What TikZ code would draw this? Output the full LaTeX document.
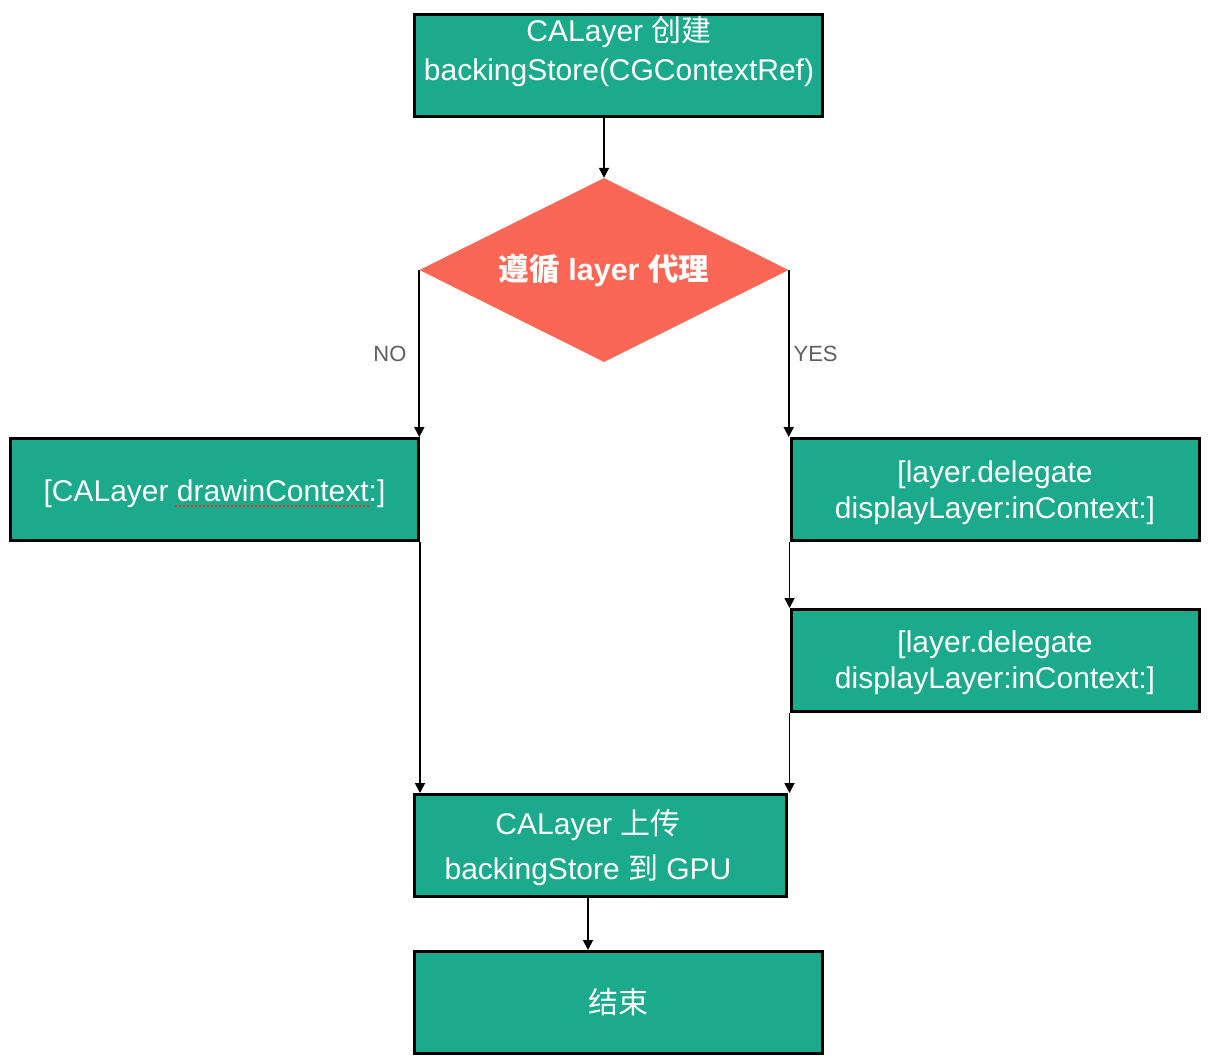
\documentclass[tikz,border=0pt]{standalone}
\usepackage{fontspec}
\setmainfont{Liberation Sans}
\newfontfamily\cjk{Noto Sans CJK SC}
\newcommand{\zh}[1]{{\cjk #1}}
\usepackage{tikz}
\usetikzlibrary{shapes.geometric,arrows.meta,calc}
\usepackage{xcolor}
\definecolor{boxgreen}{HTML}{1BAA8B}
\definecolor{decred}{HTML}{FB6655}
\definecolor{labgray}{HTML}{5E5E5E}
\definecolor{spellred}{HTML}{F0302A}

\begin{document}
\begin{tikzpicture}[x=1pt,y=1pt,
  box/.style={draw=black,line width=3pt,fill=boxgreen,minimum width=408pt,minimum height=102pt,inner sep=0pt,text=white,align=center,font=\fontsize{30}{37}\selectfont},
  txt/.style={text=white,align=center,inner sep=0pt,font=\fontsize{30}{36}\selectfont},
  decision/.style={diamond,aspect=2,fill=decred,minimum width=369pt,minimum height=184pt,inner sep=0pt,text=white,font=\bfseries\fontsize{30.5}{37}\selectfont},
  arr/.style={line width=1.8pt,-{Triangle[length=10pt,width=10pt]}},
  yesno/.style={text=labgray,inner sep=0pt,font=\fontsize{22}{26}\selectfont},
  spell/.style={spellred,line width=2pt,dash pattern=on 2pt off 2pt}]
\useasboundingbox (0,0) rectangle (1222,-1062);
% Caixas
\node[box] (create) at (618.5,-65.5) {};
\node[txt] (createtext) at (619,-52) {CALayer \zh{创建}\\[3pt]backingStore(CGContextRef)};
\node[decision] (dec) at (604,-270) {\zh{遵循} layer \zh{代理}};
\node[box,text height=30pt] (drawctx) at (214.5,-489.5) {[CALayer drawinContext:]};
\node[box] (del1) at (995,-489.5) {};
\node[txt] (del1text) at (995,-492.5) {[layer.delegate\\displayLayer:inContext:]};
\node[box] (del2) at (995,-660.5) {};
\node[txt] (del2text) at (995,-663) {[layer.delegate\\displayLayer:inContext:]};
\node[box,minimum width=372pt] (upload) at (600,-845.5) {};
\node[txt] (uploadtext) at (588,-848) {CALayer \zh{上传}\\[9pt]backingStore \zh{到} GPU};
\node[box] (finish) at (618.5,-1002.5) {\zh{结束}};
% Sublinhado
\draw[spell] ([shift={(-40,-16)}]drawctx.center) -- ([shift={(154,-16)}]drawctx.center);
% Setas
\draw[arr] (create.south -| dec.north) -- (dec.north);
\draw[arr] (dec.west) -- (dec.west |- drawctx.north) node[midway,yesno,left=12pt] {NO};
\draw[arr] (dec.east) -- (dec.east |- del1.north) node[midway,yesno,right=4pt] {YES};
\draw[arr] (drawctx.south east) -- (drawctx.south east |- upload.north);
\draw[arr] (del1.south west) -- (del2.north west);
\draw[arr] (del2.south west) -- (del2.south west |- upload.north);
\draw[arr] ([xshift=-12pt]upload.south) -- ([xshift=-12pt]upload.south |- finish.north);
\end{tikzpicture}
\end{document}
